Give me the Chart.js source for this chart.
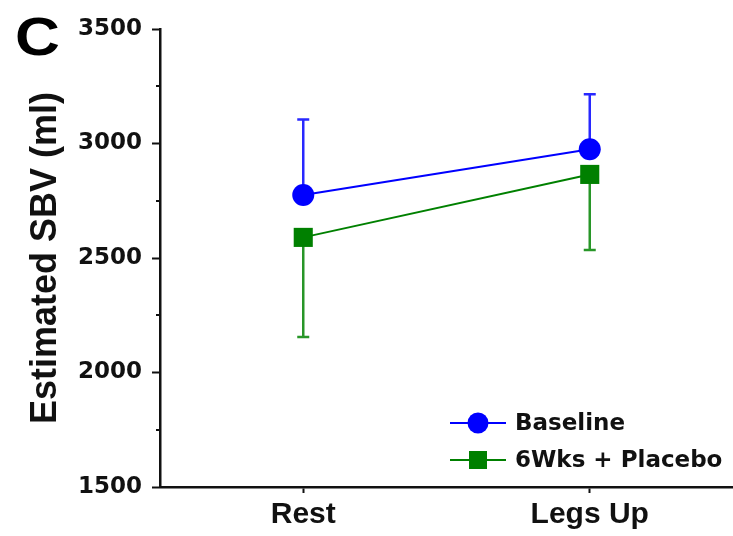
<!DOCTYPE html>
<html>
<head>
<meta charset="utf-8">
<script src="https://cdn.jsdelivr.net/npm/chart.js@4.4.1/dist/chart.umd.min.js"></script>
<style>
  html, body { margin: 0; padding: 0; background: #fff; }
  #wrap { width: 733px; height: 536px; }
</style>
</head>
<body>
<div id="wrap"><canvas id="myChart" width="733" height="536"></canvas></div>
<script>
// data
const categories = ['Rest', 'Legs Up'];
const baselineMean = [2775, 2975];
const baselineSD = [330, 240];      // drawn upward
const placeboMean = [2590, 2865];
const placeboSD = [435, 330];       // drawn downward
const yTicks = [1500, 2000, 2500, 3000, 3500];
const yMinorTicks = [1750, 2250, 2750, 3250];

const blue = 'rgb(0,0,255)';
const green = 'rgb(0,128,0)';
const tickFont = { family: 'DejaVu Sans', weight: 'bold', size: 23 };
const labelFont = { family: 'Liberation Sans', weight: 'bold', size: 30 };

// one sided error bars, under the markers
const errorBars = {
    id: 'errorBars',
    beforeDatasetsDraw(chart) {
        const ctx = chart.ctx;
        const y = chart.scales.y;
        chart.data.datasets.forEach((ds, i) => {
            const meta = chart.getDatasetMeta(i);
            ctx.save();
            ctx.strokeStyle = ds.errColor;
            ctx.lineWidth = 2.5;
            meta.data.forEach((pt, j) => {
                const end = y.getPixelForValue(ds.data[j] + ds.errDir * ds.err[j]);
                ctx.beginPath();
                ctx.moveTo(pt.x, pt.y);
                ctx.lineTo(pt.x, end);
                ctx.moveTo(pt.x - 6, end);
                ctx.lineTo(pt.x + 6, end);
                ctx.stroke();
            });
            ctx.restore();
        });
    }
};

// minor ticks, panel letter and the legend box inside the plot
const extras = {
    id: 'extras',
    afterDraw(chart) {
        const ctx = chart.ctx;
        const y = chart.scales.y;
        const area = chart.chartArea;
        ctx.save();
        ctx.strokeStyle = '#111';
        ctx.lineWidth = 2;
        yMinorTicks.forEach(v => {
            const py = Math.round(y.getPixelForValue(v));
            ctx.beginPath();
            ctx.moveTo(area.left - 4, py);
            ctx.lineTo(area.left, py);
            ctx.stroke();
        });

        // panel letter
        ctx.save();
        ctx.fillStyle = '#000';
        ctx.font = '900 54px "Liberation Sans"';
        ctx.textBaseline = 'alphabetic';
        ctx.translate(15, 55);
        ctx.scale(1.15, 1);
        ctx.fillText('C', 0, 0);
        ctx.restore();

        // legend
        ctx.font = 'bold 23px "DejaVu Sans"';
        ctx.textBaseline = 'middle';
        chart.data.datasets.forEach((ds, i) => {
            const ly = 423 + i * 37;
            ctx.strokeStyle = ds.borderColor;
            ctx.lineWidth = 2;
            ctx.beginPath();
            ctx.moveTo(450, ly);
            ctx.lineTo(506, ly);
            ctx.stroke();
            ctx.fillStyle = ds.borderColor;
            ctx.beginPath();
            if (ds.pointStyle === 'rect') {
                ctx.rect(478 - 9, ly - 9, 18, 18);
            } else {
                ctx.arc(478, ly, 10.5, 0, Math.PI * 2);
            }
            ctx.fill();
            ctx.fillStyle = '#111';
            ctx.fillText(ds.label, 515, ly + 1);
        });
        ctx.restore();
    }
};

const ctx = document.getElementById('myChart').getContext('2d');

const myChart = new Chart(ctx, {
    type: 'line',
    data: {
        labels: categories,
        datasets: [{
            label: 'Baseline',
            data: baselineMean,
            err: baselineSD,
            errDir: 1,
            errColor: 'rgb(40,40,255)',
            borderColor: blue,
            backgroundColor: blue,
            borderWidth: 2,
            pointStyle: 'circle',
            pointRadius: 11,
            pointBorderWidth: 0,
            clip: false
        }, {
            label: '6Wks + Placebo',
            data: placeboMean,
            err: placeboSD,
            errDir: -1,
            errColor: 'rgb(40,150,40)',
            borderColor: green,
            backgroundColor: green,
            borderWidth: 2,
            pointStyle: 'rect',
            pointRadius: 13.5,
            pointBorderWidth: 0,
            clip: false
        }]
    },
    options: {
        responsive: false,
        animation: false,
        events: [],
        layout: { autoPadding: false, padding: { top: 29, right: 0, bottom: 0, left: 0 } },
        plugins: {
            legend: { display: false },
            tooltip: { enabled: false }
        },
        scales: {
            x: {
                type: 'category',
                offset: true,
                border: { display: true, width: 2.5, color: '#111' },
                grid: { display: true, drawOnChartArea: false, drawTicks: true, tickLength: 6, tickWidth: 2, tickColor: '#111' },
                ticks: { color: '#111', font: labelFont, padding: 4, maxRotation: 0 },
                afterFit(scale) { scale.height = 49; }
            },
            y: {
                min: 1500,
                max: 3500,
                afterBuildTicks(scale) { scale.ticks = yTicks.map(v => ({ value: v })); },
                border: { display: true, width: 2.5, color: '#111' },
                grid: { display: true, drawOnChartArea: false, drawTicks: true, tickLength: 8, tickWidth: 2, tickColor: '#111' },
                ticks: { color: '#111', font: tickFont, padding: 10, callback: v => String(v) },
                title: {
                    display: true,
                    text: 'Estimated SBV (ml)',
                    color: '#111',
                    font: { family: 'Liberation Sans', weight: 'bold', size: 36 },
                    padding: { top: 24, bottom: 0 }
                },
                afterFit(scale) { scale.width = 160; }
            }
        }
    },
    plugins: [errorBars, extras]
});
</script>
</body>
</html>
